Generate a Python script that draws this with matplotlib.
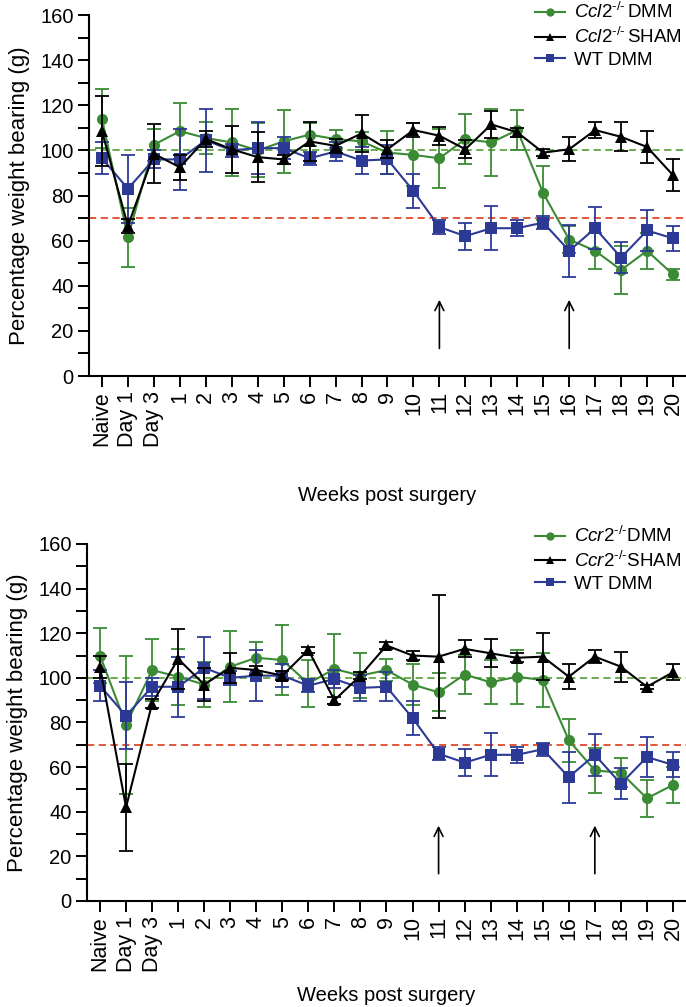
import numpy as np
import matplotlib
matplotlib.use("Agg")
import matplotlib.pyplot as plt
from matplotlib.ticker import MultipleLocator

plt.rcParams['font.family'] = ['Liberation Sans', 'DejaVu Sans']
plt.rcParams['mathtext.fontset'] = 'custom'
plt.rcParams['mathtext.rm'] = 'Liberation Sans'
plt.rcParams['mathtext.it'] = 'Liberation Sans:italic'

# x categories
labels = ['Naive', 'Day 1', 'Day 3'] + [str(i) for i in range(1, 21)]

# top panel: Ccl2
ccl2_dmm = [114, 61.5, 102.5, 108.5, 105.5, 103.5, 100, 104, 107, 105, 104, 99,
            98, 96.5, 105, 103.5, 109, 81, 60.5, 55.5, 47, 55.5, 45]
ccl2_dmm_err = [13, 13, 7, 12.5, 7, 15, 12, 14, 5, 4, 4, 9.5,
                14, 13, 11, 15, 9, 12, 6, 8, 10.5, 8, 2.5]
ccl2_sham = [108.5, 66.5, 98.5, 92.5, 105, 100.5, 97, 96, 104, 102, 107.5, 100.5,
             109, 106.5, 100.5, 111.5, 108, 99, 100.5, 109, 106, 101.5, 89]
ccl2_sham_err = [15.5, 3, 13, 5.5, 3.7, 10.5, 11, 2, 8.5, 3, 8, 4,
                 3, 4, 4, 6, 2, 1.5, 5.3, 3.7, 6.4, 7, 7]

# WT DMM (same in both panels)
wt_dmm = [96.5, 83, 96, 96, 104.5, 100, 101, 101, 96.5, 99.5, 95.5, 96,
          82, 66, 62, 65.5, 65.5, 68, 55.5, 65.5, 52.5, 64.5, 61]
wt_dmm_err = [7, 15, 4, 13.5, 14, 3, 11.5, 5, 3, 4, 6, 6.5,
              7.5, 3, 6, 9.7, 3.5, 3, 11.4, 9.3, 7, 9, 5.6]

# bottom panel: Ccr2
ccr2_dmm = [110, 79, 103.5, 100.5, 97, 105, 109, 108, 97.5, 104, 101, 103.5,
            97, 93.5, 101.5, 98, 100.5, 99, 72, 58.5, 57.5, 46, 52]
ccr2_dmm_err = [12.5, 31, 14, 12.5, 10, 16, 7, 15.5, 10.7, 15.5, 10, 5,
                9, 8.5, 8.7, 9.8, 12, 12, 9.6, 10, 6.4, 8.2, 8.2]
ccr2_sham = [105, 42, 88.5, 108.5, 97, 104.5, 103.5, 101, 112.5, 90, 101, 114.5,
             110, 109.5, 113, 111, 109, 109.5, 100.5, 109.5, 105, 96, 102.5]
ccr2_sham_err = [5, 19.5, 2, 13.5, 7.5, 6.7, 2, 2, 1.5, 1.5, 1.5, 1.5,
                 2, 27.5, 3.8, 6.3, 2, 10.4, 5.5, 3, 6.7, 1, 3.5]

arrows_top = [13, 18]     # weeks 11 and 16
arrows_bottom = [13, 19]  # weeks 11 and 17

GREEN = '#3b8b34'
BLUE = '#2c3a96'
BLACK = '#000000'

fig = plt.figure(figsize=(6.86, 10.07), dpi=100)
ax1 = fig.add_axes([0.1297, 0.6266, 0.8703, 0.3585])
ax2 = fig.add_axes([0.1268, 0.1053, 0.8732, 0.3545])

x = np.arange(len(labels))


def draw(ax, dmm, dmm_err, sham, sham_err, gene, gap, arrows, legend_top, xpad):
    ax.axhline(100, color='#5fa443', ls=(0, (4, 2.5)), lw=1.3, zorder=1)
    ax.axhline(70, color='#e04a2a', ls=(0, (4, 2.5)), lw=1.3, zorder=1)

    sup = r'^{\text{-/-}}' + gap
    series = [
        (dmm, dmm_err, GREEN, 'o', r'$\mathit{%s}%s$DMM' % (gene, sup), 3),
        (wt_dmm, wt_dmm_err, BLUE, 's', 'WT DMM', 4),
        (sham, sham_err, BLACK, '^', r'$\mathit{%s}%s$SHAM' % (gene, sup), 5),
    ]
    handles = {}
    for y, e, c, m, lab, z in series:
        ax.errorbar(x, y, yerr=e, fmt='none', ecolor=c, elinewidth=1.3,
                    capsize=5, capthick=1.3, zorder=z)
        ln, = ax.plot(x, y, color=c, lw=1.5, marker=m, markersize=8,
                      markeredgewidth=0, label=lab, zorder=z + 0.5)
        handles[m] = ln

    for a in arrows:
        ax.annotate('', xy=(a, 35), xytext=(a, 11),
                    arrowprops=dict(arrowstyle='->', lw=1.2, color='black',
                                    mutation_scale=16))

    ax.set_xlim(-0.5, 22.5)
    ax.set_ylim(0, 160)
    ax.set_xticks(x)
    ax.set_xticklabels(labels, rotation=90)
    ax.yaxis.set_major_locator(MultipleLocator(20))
    ax.yaxis.set_minor_locator(MultipleLocator(10))
    ax.tick_params(axis='both', which='both', direction='out', length=8,
                   width=1.4)
    ax.tick_params(axis='y', labelsize=14.5, pad=3)
    ax.tick_params(axis='x', labelsize=15.5, pad=3)
    for s in ['top', 'right']:
        ax.spines[s].set_visible(False)
    for s in ['left', 'bottom']:
        ax.spines[s].set_linewidth(1.5)
    ax.set_ylabel('Percentage weight bearing (g)', fontsize=16, labelpad=7)
    ax.set_xlabel('Weeks post surgery', fontsize=14.5, labelpad=xpad)

    leg = fig.legend([handles['o'], handles['^'], handles['s']],
                     [series[0][4], series[2][4], series[1][4]],
                     loc='upper left', bbox_to_anchor=legend_top,
                     bbox_transform=fig.transFigure, frameon=False,
                     fontsize=13.5, handlelength=1.6, handletextpad=0.5,
                     labelspacing=0.25, borderpad=0)
    for h in leg.legend_handles:
        h.set_markersize(6)


draw(ax1, ccl2_dmm, ccl2_dmm_err, ccl2_sham, ccl2_sham_err, 'Ccl2', r'\,',
     arrows_top, (0.766, 1.007), 28)
draw(ax2, ccr2_dmm, ccr2_dmm_err, ccr2_sham, ccr2_sham_err, 'Ccr2', '',
     arrows_bottom, (0.766, 0.487), 10)

fig.savefig('out.png', dpi=100)
